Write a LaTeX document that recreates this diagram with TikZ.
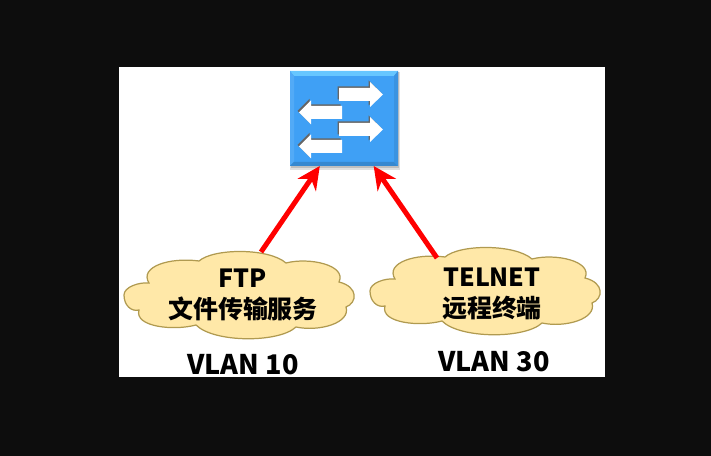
\documentclass[tikz,border=0pt]{standalone}
\usepackage{fontspec}
\setmainfont{Noto Sans CJK SC}
\usetikzlibrary{arrows.meta}
\definecolor{swblue}{HTML}{3FA0F5}
\definecolor{swtop}{HTML}{66C6FF}
\definecolor{cloudfill}{HTML}{FFE8A8}
\definecolor{cloudline}{HTML}{B09A50}
\tikzset{
    label/.style={font=\fontsize{14.2pt}{17.6pt}\selectfont\bfseries, align=center, text=black, inner sep=0pt},
    vlan/.style={label, font=\fontsize{15.4pt}{17.6pt}\selectfont\bfseries},
    switchbox/.style={fill=swblue, minimum width=2.16cm, minimum height=1.9cm, inner sep=0pt, outer sep=0pt},
    flow/.style={fill=white, preaction={fill=black!60, transform canvas={shift={(-0.03cm,0.03cm)}}}},
    link/.style={draw=red, line width=0.1cm, -{Stealth[length=0.46cm,width=0.44cm]}}
}
\begin{document}
\begin{tikzpicture}[x=0.02cm, y=0.02cm]
% Sfondo
\fill[black!95] (0,0) rectangle (711,456);
\useasboundingbox (0,0) rectangle (711,456);
\fill[white] (119,79) rectangle (605,389);

% Switch
\fill[black!12] (290,286) rectangle (400,384);
\fill[black!25] (291,288) rectangle (399,384);
\node[switchbox] (sw) at (344,337.5) {};
\fill[swtop] (290,385) -- (398,385) -- (394,380) -- (294,380) -- cycle;
\fill[swblue!90!white] (290,290) -- (290,385) -- (294,380) -- (294,294) -- cycle;
\fill[swblue!85!black] (290,290) -- (398,290) -- (394,294) -- (294,294) -- cycle;
\fill[swblue!92!black] (398,290) -- (398,385) -- (394,380) -- (394,294) -- cycle;

% Frecce dello switch
\foreach \y in {361.5, 326.5} {
    \begin{scope}[shift={(339,\y)}]
        \path[flow] (0,-6.5) -- (0,6.5) -- (31,6.5) -- (31,12.5) -- (44,0) -- (31,-12.5) -- (31,-6.5) -- cycle;
    \end{scope}
}
\foreach \y in {343.5, 309.5} {
    \begin{scope}[shift={(342,\y)}]
        \path[flow] (0,-6.5) -- (0,6.5) -- (-31,6.5) -- (-31,12) -- (-43,0) -- (-31,-12) -- (-31,-6.5) -- cycle;
    \end{scope}
}

% Nuvole
\foreach \x/\y/\name/\tx/\ty in {239/161/ftp/22/43, 485/165/telnet/-48/33} {
    \begin{scope}[shift={(\x,\y)}]
        \draw[fill=cloudfill, draw=cloudline, line width=0.7pt]
            (-115,0) .. controls (-115,8) and (-100,13) .. (-90,12)
            .. controls (-100,28) and (-70,38) .. (-40,34)
            .. controls (-25,47) and (30,47) .. (47,32)
            .. controls (70,38) and (108,30) .. (100,13)
            .. controls (120,8) and (118,-8) .. (107,-12)
            .. controls (112,-28) and (80,-37) .. (57,-32)
            .. controls (40,-48) and (-25,-48) .. (-43,-30)
            .. controls (-65,-36) and (-105,-32) .. (-100,-15)
            .. controls (-108,-17) and (-115,-10) .. (-115,0) -- cycle;
        \coordinate (\name top) at (\tx,\ty);
    \end{scope}
}
\node[label] (ftp) at (243,161) {FTP\\文件传输服务};
\node[label] (telnet) at (492,162) {TELNET\\远程终端};
\node[vlan] (vlanA) at (243,91) {VLAN 10};
\node[vlan] (vlanB) at (494,94.5) {VLAN 30};

% Collegamenti
\draw[link] (ftptop) -- (sw.-117);
\draw[link] (telnettop) -- (sw.-58);
\end{tikzpicture}
\end{document}
